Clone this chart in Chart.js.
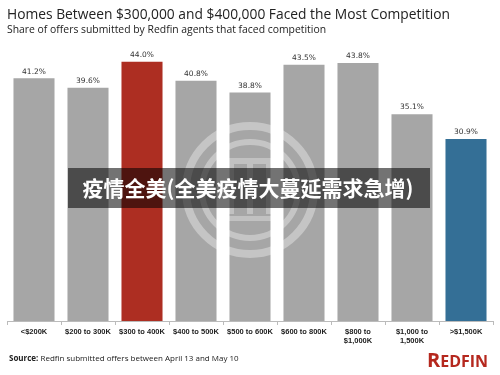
<!DOCTYPE html>
<html>
<head>
<meta charset="utf-8">
<script src="https://cdn.jsdelivr.net/npm/chart.js@4"></script>
<style>
  html, body { margin: 0; padding: 0; background: #fff; }
  #wrap { width: 500px; height: 375px; position: relative; }
</style>
</head>
<body>
<div id="wrap"><canvas id="barChart"></canvas></div>
<script>
const priceRanges = [
  '<$200K', '$200 to 300K', '$300 to 400K', '$400 to 500K', '$500 to 600K',
  '$600 to 800K', ['$800 to', '$1,000K'], ['$1,000 to', '1,500K'], '>$1,500K'
];
const competitionShare = [41.2, 39.6, 44.0, 40.8, 38.8, 43.5, 43.8, 35.1, 30.9];
const barColors = ['#a6a6a6', '#a6a6a6', '#ad2e22', '#a6a6a6', '#a6a6a6', '#a6a6a6', '#a6a6a6', '#a6a6a6', '#346f96'];

const titleText = 'Homes Between $300,000 and $400,000 Faced the Most Competition';
const subtitleText = 'Share of offers submitted by Redfin agents that faced competition';
const bannerText = '疫情全美(全美疫情大蔓延需求急增)';

const valueLabels = {
  id: 'valueLabels',
  afterDatasetsDraw(chart) {
    const c = chart.ctx;
    const meta = chart.getDatasetMeta(0);
    c.save();
    c.font = '7.5px "DejaVu Sans"';
    c.fillStyle = '#333';
    c.textAlign = 'center';
    c.textBaseline = 'bottom';
    meta.data.forEach((bar, i) => {
      c.fillText(competitionShare[i].toFixed(1) + '%', bar.x, bar.y - 3);
    });
    c.restore();
  }
};

const overlay = {
  id: 'overlay',
  afterDraw(chart) {
    const c = chart.ctx;
    c.save();
    // watermark rings
    const cx = 250, cy = 190;
    c.strokeStyle = 'rgba(255,255,255,0.35)';
    c.lineWidth = 8;
    c.beginPath(); c.arc(cx, cy, 64, 0, Math.PI * 2); c.stroke();
    c.lineWidth = 6;
    c.beginPath(); c.arc(cx, cy, 48, 0, Math.PI * 2); c.stroke();
    c.fillStyle = 'rgba(255,255,255,0.3)';
    c.fillRect(cx - 30, cy - 32, 60, 6);
    c.fillRect(cx - 22, cy - 26, 6, 50);
    c.fillRect(cx + 16, cy - 26, 6, 50);
    c.fillRect(cx - 3, cy - 26, 6, 50);
    c.fillRect(cx - 30, cy + 26, 60, 5);

    // banner
    c.fillStyle = 'rgba(0,0,0,0.55)';
    c.fillRect(68, 168, 362, 40);
    c.font = 'bold 21px "Noto Sans CJK SC"';
    c.fillStyle = '#fff';
    c.textAlign = 'center';
    c.textBaseline = 'middle';
    c.fillText(bannerText, 248, 188);

    // source
    c.textAlign = 'left';
    c.textBaseline = 'alphabetic';
    c.fillStyle = '#222';
    c.font = 'bold 8px "Open Sans"';
    c.fillText('Source:', 9, 361);
    const w = c.measureText('Source: ').width;
    c.font = '8px "Open Sans"';
    c.fillText('Redfin submitted offers between April 13 and May 10', 9 + w, 361);

    // logo
    c.fillStyle = '#b5281e';
    c.font = 'bold 20px "Open Sans"';
    c.fillText('R', 427, 367);
    const rw = c.measureText('R').width;
    c.font = 'bold 16px "Open Sans"';
    c.fillText('EDFIN', 427 + rw, 367);
    c.restore();
  }
};

const ctx = document.getElementById('barChart');
new Chart(ctx, {
  type: 'bar',
  data: {
    labels: priceRanges,
    datasets: [{
      data: competitionShare,
      backgroundColor: barColors,
      borderWidth: 0,
      categoryPercentage: 1,
      barPercentage: 0.76
    }]
  },
  options: {
    responsive: true,
    maintainAspectRatio: false,
    animation: false,
    layout: { padding: { left: 7, right: 7, top: 0, bottom: 28 } },
    plugins: {
      legend: { display: false },
      tooltip: { enabled: false },
      title: {
        display: true,
        text: titleText,
        align: 'start',
        color: '#222',
        font: { family: 'Open Sans', size: 13.8, weight: 'normal' },
        padding: { top: 7, bottom: 0 }
      },
      subtitle: {
        display: true,
        text: subtitleText,
        align: 'start',
        color: '#222',
        font: { family: 'Open Sans', size: 10.4 },
        padding: { top: 0, bottom: 14 }
      }
    },
    scales: {
      x: {
        offset: true,
        grid: {
          offset: true,
          drawOnChartArea: false,
          tickLength: 4,
          color: '#bbb'
        },
        border: { color: '#bbb', dash: [1, 1] },
        ticks: {
          color: '#222',
          font: { family: 'Liberation Sans', size: 7.5, weight: 'bold' },
          maxRotation: 0,
          autoSkip: false,
          padding: 2
        }
      },
      y: {
        display: false,
        min: 0,
        max: 46
      }
    }
  },
  plugins: [valueLabels, overlay]
});
</script>
</body>
</html>
